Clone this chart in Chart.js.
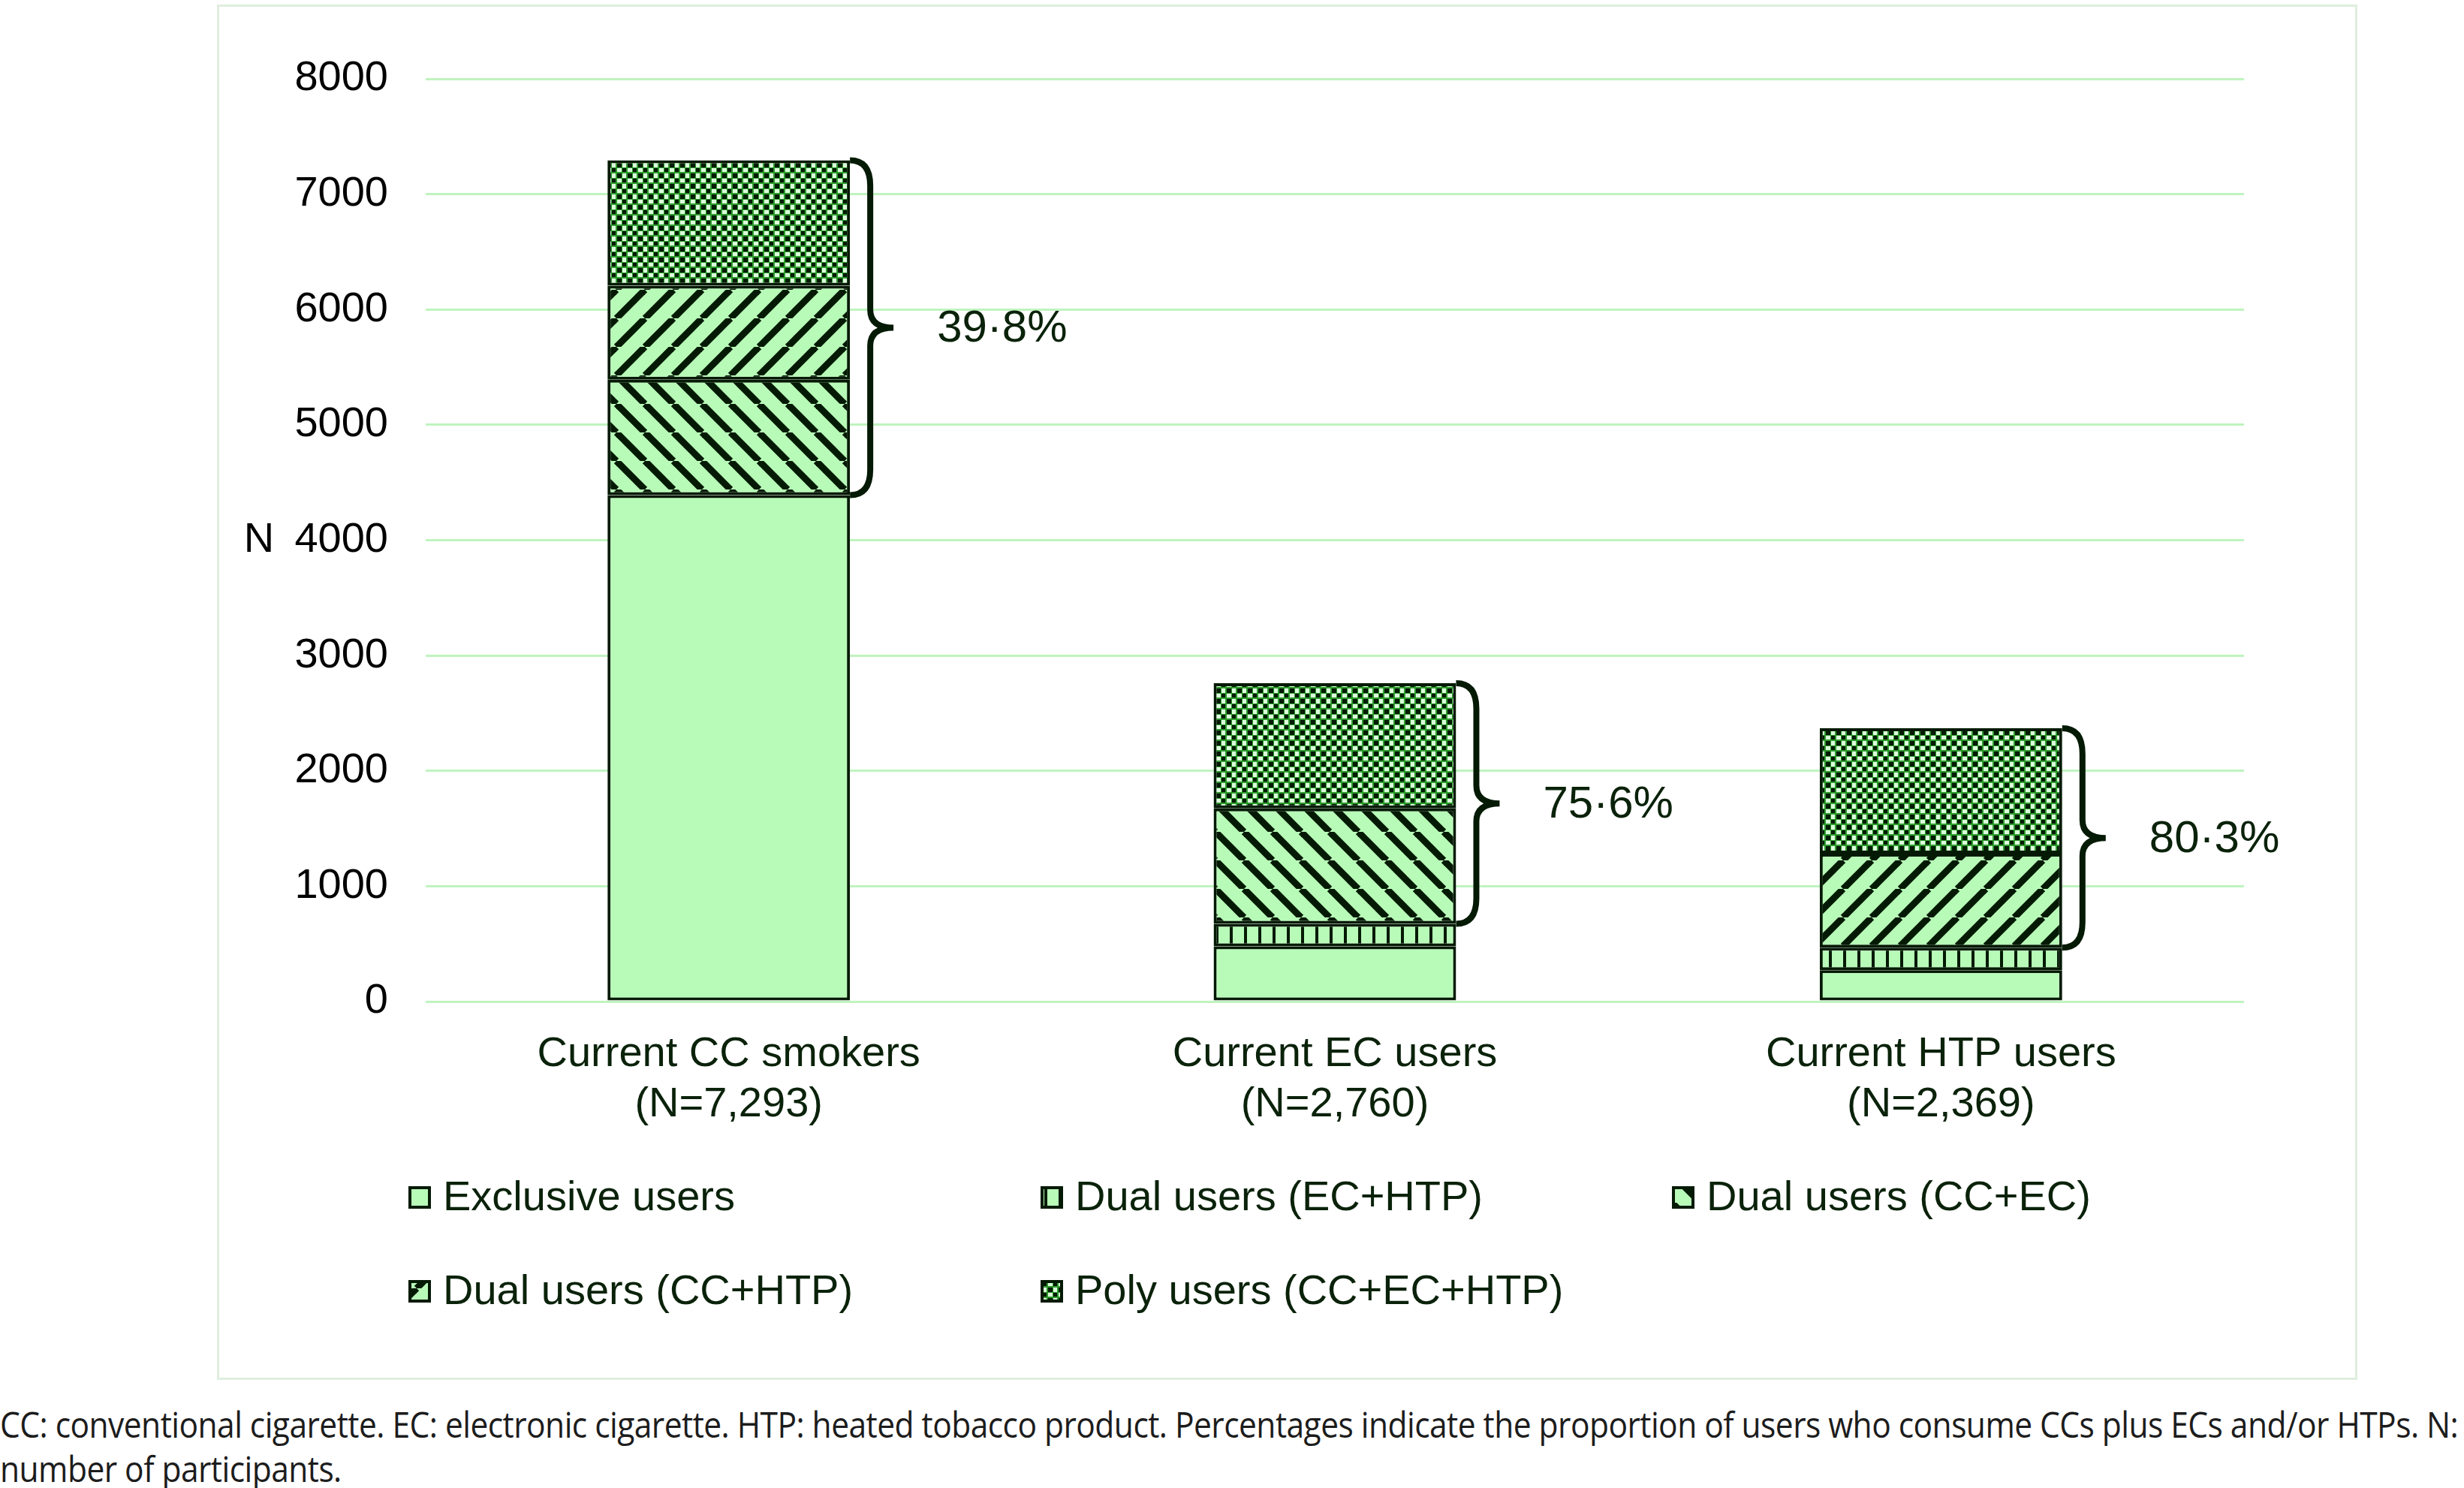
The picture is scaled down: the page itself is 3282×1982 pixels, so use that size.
<!DOCTYPE html>
<html>
<head>
<meta charset="utf-8">
<script src="https://cdn.jsdelivr.net/npm/chart.js@4.4.1/dist/chart.umd.min.js"></script>
<style>
  body { margin: 0; background: #fff; width: 3282px; height: 1982px; overflow: hidden; position: relative; }
  #box { position: absolute; left: 289px; top: 6px; width: 2845px; height: 1826px; border: 3px solid #dfeedf; }
  #box canvas { position: absolute; left: -3px; top: -3px; }
  .note { position: absolute; left: 0; font-family: "Open Sans", sans-serif; font-size: 47px; color: #1c1c1c; white-space: nowrap; letter-spacing: -0.6px; transform: scaleX(0.905); transform-origin: 0 0; }
</style>
</head>
<body>
<div id="box"><canvas id="myChart" width="2851" height="1832"></canvas></div>
<div class="note" style="top:1865px">CC: conventional cigarette. EC: electronic cigarette. HTP: heated tobacco product. Percentages indicate the proportion of users who consume CCs plus ECs and/or HTPs. N:</div>
<div class="note" style="top:1924px">number of participants.</div>
<script>
// data
const categories = [["Current CC smokers", "(N=7,293)"], ["Current EC users", "(N=2,760)"], ["Current HTP users", "(N=2,369)"]];
const seriesNames = ["Exclusive users", "Dual users (EC+HTP)", "Dual users (CC+EC)", "Dual users (CC+HTP)", "Poly users (CC+EC+HTP)"];
const exclusive = [4390, 478, 272];
const dualEcHtp = [0, 195, 195];
const dualCcEc = [1001, 1001, 0];
const dualCcHtp = [816, 0, 816];
const polyUsers = [1086, 1086, 1086];
const shareLabels = ["39·8%", "75·6%", "80·3%"];
const yMax = 8000;
const yStep = 1000;

const fillGreen = "#b8fbb8";
const ink = "#051a05";
const textGreen = "#0a220a";

function tile(w, h, draw) {
  const c = document.createElement("canvas");
  c.width = w; c.height = h;
  const g = c.getContext("2d");
  g.fillStyle = fillGreen;
  g.fillRect(0, 0, w, h);
  draw(g);
  return document.getElementById("myChart").getContext("2d").createPattern(c, "repeat");
}

const vertPattern = tile(19, 19, g => {
  g.fillStyle = ink;
  g.fillRect(0, 0, 4, 19);
});
const backDiag = tile(38, 38, g => {
  g.strokeStyle = ink; g.lineWidth = 9;
  for (let k = -1; k <= 1; k++) {
    g.beginPath(); g.moveTo(k * 38, 0); g.lineTo(k * 38 + 38, 38); g.stroke();
  }
});
const fwdDiag = tile(38, 38, g => {
  g.strokeStyle = ink; g.lineWidth = 9;
  for (let k = -1; k <= 1; k++) {
    g.beginPath(); g.moveTo(k * 38, 38); g.lineTo(k * 38 + 38, 0); g.stroke();
  }
});
const checker = tile(14, 14, g => {
  g.fillStyle = "#2f9a2f";
  g.fillRect(0, 0, 14, 14);
  g.fillStyle = ink;
  g.fillRect(1, 1, 6, 6); g.fillRect(8, 8, 5, 5);
  g.fillStyle = "#dcffdc";
  g.fillRect(8, 1, 5, 6); g.fillRect(1, 8, 6, 5);
});

const fills = [fillGreen, vertPattern, backDiag, fwdDiag, checker];
const values = [exclusive, dualEcHtp, dualCcEc, dualCcHtp, polyUsers];

const extras = {
  id: "extras",
  afterDraw(chart) {
    const ctx = chart.ctx;
    const y = chart.scales.y;
    ctx.save();
    // axis letter
    ctx.font = "56px 'Liberation Sans'";
    ctx.fillStyle = "#000";
    ctx.textAlign = "center";
    ctx.textBaseline = "middle";
    ctx.fillText("N", y.left + 56, y.getPixelForValue(4000));

    // braces + percentages
    const meta = chart.getDatasetMeta(0);
    categories.forEach((c, i) => {
      const bar = meta.data[i];
      const x0 = bar.x + bar.width / 2;
      let total = 0;
      values.forEach(v => total += v[i]);
      const base = exclusive[i] + dualEcHtp[i];
      const yT = y.getPixelForValue(total);
      const yB = y.getPixelForValue(base);
      const yM = (yT + yB) / 2;
      const x1 = x0 + 27, x2 = x0 + 58, r = 34, r2 = 24;
      ctx.beginPath();
      ctx.moveTo(x0, yT);
      ctx.quadraticCurveTo(x1, yT, x1, yT + r);
      ctx.lineTo(x1, yM - r2);
      ctx.quadraticCurveTo(x1, yM, x2, yM);
      ctx.quadraticCurveTo(x1, yM, x1, yM + r2);
      ctx.lineTo(x1, yB - r);
      ctx.quadraticCurveTo(x1, yB, x0, yB);
      ctx.strokeStyle = ink;
      ctx.lineWidth = 8;
      ctx.stroke();
      ctx.font = "60px 'Liberation Sans'";
      ctx.fillStyle = textGreen;
      ctx.textAlign = "left";
      ctx.fillText(shareLabels[i], x2 + 58, yM + 2);
    });

    // legend in three columns
    const cols = [255, 1097, 1938];
    const rows = [1589, 1714];
    chart.data.datasets.forEach((ds, i) => {
      const lx = cols[i % 3], ly = rows[Math.floor(i / 3)];
      ctx.fillStyle = ds.backgroundColor;
      ctx.fillRect(lx, ly - 15, 30, 30);
      ctx.strokeStyle = ink;
      ctx.lineWidth = 4;
      ctx.strokeRect(lx + 2, ly - 13, 26, 26);
      ctx.font = "56px 'Liberation Sans'";
      ctx.fillStyle = textGreen;
      ctx.textAlign = "left";
      ctx.textBaseline = "middle";
      ctx.fillText(ds.label, lx + 46, ly + 2);
    });
    ctx.restore();
  }
};

new Chart("myChart", {
  type: "bar",
  data: {
    labels: categories,
    datasets: seriesNames.map((name, i) => ({
      label: name,
      data: values[i],
      backgroundColor: fills[i],
      borderColor: ink,
      borderWidth: 4,
      borderSkipped: false,
      categoryPercentage: 1,
      barPercentage: 0.4
    }))
  },
  options: {
    responsive: false,
    animation: false,
    layout: { padding: { top: 99, right: 151, bottom: 334, left: 0 } },
    plugins: { legend: { display: false }, tooltip: { enabled: false } },
    scales: {
      x: {
        stacked: true,
        grid: { display: false },
        border: { display: false },
        ticks: { padding: 29, color: textGreen, font: { family: "Liberation Sans", size: 56, lineHeight: 1.2 } },
        afterFit: s => { s.height = 170; }
      },
      y: {
        stacked: true,
        min: 0,
        max: yMax,
        ticks: {
          stepSize: yStep, padding: 50, color: "#000",
          font: { family: "Liberation Sans", size: 56 },
          callback: v => String(v)
        },
        grid: { color: "#bff4bf", lineWidth: 3, drawTicks: false },
        border: { display: false },
        afterFit: s => { s.width = 278; }
      }
    }
  },
  plugins: [extras]
});
</script>
</body>
</html>
